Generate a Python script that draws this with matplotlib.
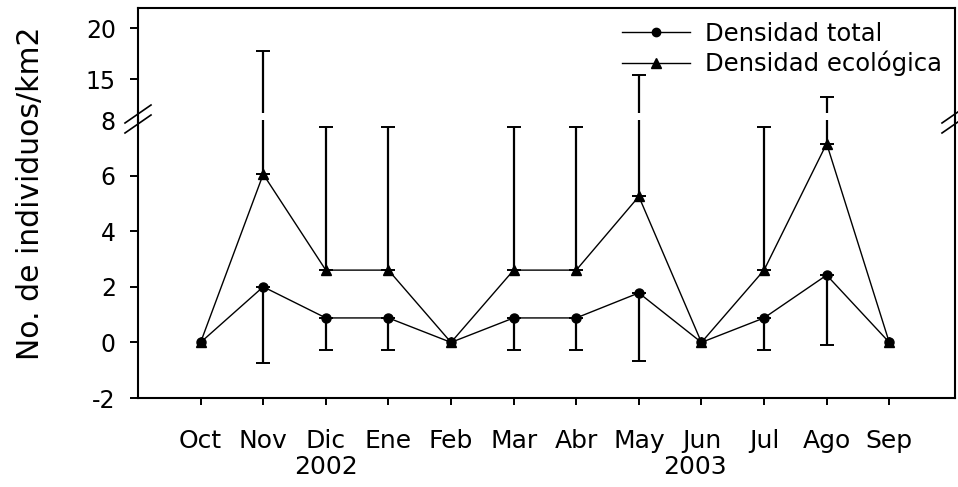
import numpy as np
import matplotlib
matplotlib.use("Agg")
import matplotlib.pyplot as plt
from matplotlib.lines import Line2D

plt.rcParams['font.family'] = ['DejaVu Sans']
plt.rcParams['axes.unicode_minus'] = False

months = ['Oct', 'Nov', 'Dic', 'Ene', 'Feb', 'Mar', 'Abr', 'May', 'Jun', 'Jul', 'Ago', 'Sep']
total = [0, 2.0, 0.88, 0.88, 0, 0.88, 0.88, 1.78, 0, 0.88, 2.42, 0]
total_err = [0, 2.75, 1.17, 1.17, 0, 1.17, 1.17, 2.45, 0, 1.17, 2.5, 0]
eco = [0, 6.05, 2.6, 2.6, 0, 2.6, 2.6, 5.25, 0, 2.6, 7.15, 0]
eco_err = [0, 11.75, 5.15, 5.15, 0, 5.15, 5.15, 10.15, 0, 5.15, 6.1, 0]
years = ['2002', '2003']
year_pos = [2.0, 7.9]
lower_ticks = [-2, 0, 2, 4, 6, 8]
upper_ticks = [15, 20]

W, H = 958, 487
fig = plt.figure(figsize=(W / 100, H / 100), dpi=100)

def fx(px):
    return px / W

def fy(py):
    return 1 - py / H

L, R = 138, 955
ax_lo = fig.add_axes([fx(L), fy(398), fx(R - L), (398 - 120) / H])
ax_hi = fig.add_axes([fx(L), fy(113), fx(R - L), (113 - 8) / H])

x = np.arange(len(months))
t = np.array(total); te = np.array(total_err)
e = np.array(eco); ee = np.array(eco_err)
mt = te > 0
me = ee > 0

for ax in (ax_lo, ax_hi):
    ax.plot(x, t, color='black', lw=1.0, marker='o', ms=6.5, zorder=3)
    ax.plot(x, e, color='black', lw=1.0, marker='^', ms=7, zorder=3)
    ax.errorbar(x[mt], t[mt], yerr=[te[mt], np.zeros(mt.sum())], fmt='none',
                ecolor='black', elinewidth=1.6, capsize=5, capthick=1.4, zorder=2)
    ax.errorbar(x[me], e[me], yerr=[np.zeros(me.sum()), ee[me]], fmt='none',
                ecolor='black', elinewidth=1.6, capsize=5, capthick=1.4, zorder=2)
    ax.set_xlim(-1, 12.05)
    for s in ax.spines.values():
        s.set_linewidth(1.5)
    ax.tick_params(axis='y', direction='out', length=6, width=1.4, pad=10, labelsize=17)

ax_lo.set_ylim(-2, 8)
ax_lo.set_yticks(lower_ticks)
ax_lo.yaxis.get_major_ticks()[-1].tick1line.set_visible(False)
ax_lo.spines['top'].set_visible(False)
ax_lo.set_xticks(x)
ax_lo.set_xticklabels(months)
ax_lo.tick_params(axis='x', direction='out', length=5, width=1.4, pad=17, labelsize=18)

ax_hi.set_ylim(11.65, 22.0)
ax_hi.set_yticks(upper_ticks)
ax_hi.spines['bottom'].set_visible(False)
ax_hi.set_xticks([])

# continuous left/right spines across the break
for px in (L, R):
    fig.add_artist(Line2D([fx(px), fx(px)], [fy(122), fy(111)], transform=fig.transFigure,
                          color='black', lw=1.5))

# break marks
for px in (L, R):
    for cy in (114, 124):
        fig.add_artist(Line2D([fx(px - 13), fx(px + 13)], [fy(cy + 9), fy(cy - 9)],
                              transform=fig.transFigure, color='black', lw=1.2))

# year labels
for yr, pos in zip(years, year_pos):
    ax_lo.text(pos, -0.25, yr, transform=ax_lo.get_xaxis_transform(),
               ha='center', va='center', fontsize=18)

# y label
fig.text(fx(31), fy(193), 'No. de individuos/km2', rotation=90, ha='center', va='center',
         fontsize=21.5)

# legend
h1 = Line2D([], [], color='black', lw=1.0, marker='o', ms=6)
h2 = Line2D([], [], color='black', lw=1.0, marker='^', ms=6.5)
ax_hi.legend([h1, h2], ['Densidad total', 'Densidad ecológica'], loc='center left',
             bbox_to_anchor=(fx(622), fy(49)), bbox_transform=fig.transFigure,
             frameon=False, fontsize=17.5, handlelength=2.8, handletextpad=0.6,
             labelspacing=0.2, borderpad=0, borderaxespad=0)

fig.savefig('out.png', dpi=100)
